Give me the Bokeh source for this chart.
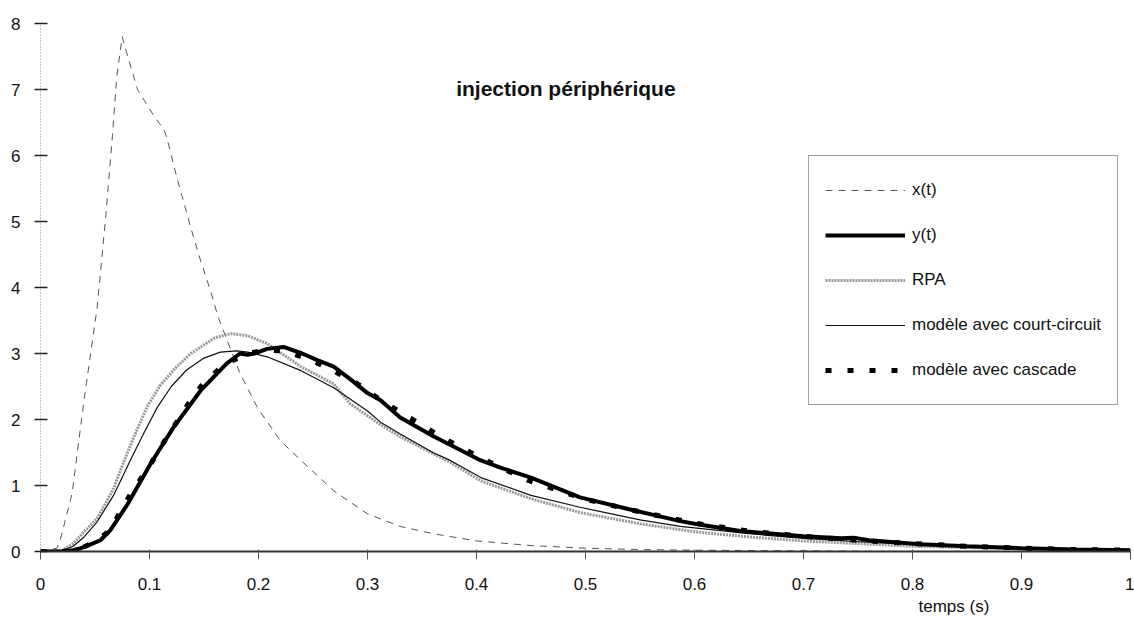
from bokeh.plotting import figure
from bokeh.models import Range1d, FixedTicker, Legend, LegendItem, Label, Title
from bokeh.embed import file_html
from bokeh.resources import INLINE

# ---------------- data ----------------
t_x = [0, 0.015, 0.018, 0.021, 0.029, 0.040, 0.052, 0.060, 0.066, 0.070, 0.075, 0.080, 0.089,
       0.104, 0.113, 0.116, 0.125, 0.138, 0.147, 0.156, 0.163, 0.183, 0.199, 0.22, 0.239,
       0.269, 0.30, 0.33, 0.36, 0.40, 0.45, 0.50, 0.55, 0.60, 0.70, 0.80, 0.90, 1.0]
v_x = [0, 0.05, 0.17, 0.36, 0.88, 2.3, 3.7, 5.1, 6.3, 7.2, 7.8, 7.5, 7.0,
       6.6, 6.4, 6.27, 5.67, 4.9, 4.4, 3.95, 3.55, 2.7, 2.18, 1.68, 1.38,
       0.92, 0.57, 0.38, 0.27, 0.16, 0.09, 0.05, 0.03, 0.02, 0.01, 0.0, 0.0, 0.0]

t_y = [0, 0.02, 0.03, 0.037, 0.045, 0.055, 0.064, 0.08, 0.101, 0.122, 0.147, 0.171, 0.183,
       0.19, 0.196, 0.208, 0.223, 0.24, 0.254, 0.269, 0.285, 0.30, 0.312, 0.33, 0.36, 0.404,
       0.422, 0.45, 0.495, 0.54, 0.587, 0.60, 0.642, 0.70, 0.735, 0.746, 0.76, 0.807, 0.85,
       0.90, 0.95, 1.0]
v_y = [0, 0, 0.02, 0.05, 0.1, 0.17, 0.32, 0.72, 1.33, 1.88, 2.44, 2.85, 3.0,
       2.98, 3.0, 3.07, 3.1, 3.0, 2.9, 2.8, 2.6, 2.4, 2.29, 2.03, 1.75, 1.38,
       1.27, 1.12, 0.82, 0.64, 0.46, 0.42, 0.31, 0.23, 0.2, 0.21, 0.17, 0.11, 0.08,
       0.05, 0.03, 0.02]

t_rpa = [0, 0.02, 0.03, 0.04, 0.052, 0.067, 0.075, 0.086, 0.098, 0.11, 0.125, 0.138, 0.16,
         0.175, 0.19, 0.208, 0.239, 0.269, 0.284, 0.312, 0.33, 0.376, 0.404, 0.45, 0.495,
         0.55, 0.6, 0.65, 0.7, 0.75, 0.8, 0.9, 1.0]
v_rpa = [0, 0.02, 0.12, 0.3, 0.5, 0.95, 1.3, 1.75, 2.2, 2.52, 2.8, 3.0, 3.24,
         3.3, 3.27, 3.15, 2.8, 2.54, 2.24, 1.92, 1.74, 1.35, 1.07, 0.8, 0.59,
         0.42, 0.3, 0.22, 0.16, 0.12, 0.08, 0.04, 0.02]

t_cc = [0, 0.02, 0.03, 0.04, 0.052, 0.067, 0.083, 0.095, 0.107, 0.12, 0.134, 0.15, 0.165,
        0.18, 0.19, 0.208, 0.239, 0.269, 0.30, 0.312, 0.33, 0.36, 0.376, 0.404, 0.45, 0.495,
        0.55, 0.587, 0.65, 0.7, 0.75, 0.8, 0.9, 1.0]
v_cc = [0, 0.01, 0.08, 0.22, 0.45, 0.85, 1.4, 1.8, 2.18, 2.5, 2.75, 2.93, 3.02,
        3.04, 3.02, 2.95, 2.74, 2.48, 2.13, 1.96, 1.78, 1.5, 1.38, 1.12, 0.85, 0.67,
        0.48, 0.38, 0.27, 0.2, 0.15, 0.11, 0.05, 0.02]

t_cas = [0, 0.02, 0.035, 0.05, 0.064, 0.073, 0.083, 0.102, 0.111, 0.121, 0.13, 0.139, 0.15,
         0.165, 0.177, 0.191, 0.205, 0.223, 0.245, 0.266, 0.29, 0.309, 0.335, 0.35, 0.364,
         0.391, 0.42, 0.447, 0.5, 0.55, 0.6, 0.65, 0.7, 0.75, 0.8, 0.85, 0.9, 0.95, 1.0]
v_cas = [0, 0, 0.03, 0.15, 0.32, 0.6, 0.88, 1.35, 1.6, 1.86, 2.09, 2.33, 2.56,
         2.78, 2.9, 3.0, 3.05, 3.04, 2.92, 2.76, 2.55, 2.33, 2.06, 1.92, 1.77,
         1.53, 1.29, 1.08, 0.79, 0.6, 0.43, 0.31, 0.23, 0.17, 0.12, 0.08, 0.05, 0.03, 0.02]

x_ticks = [0, 0.1, 0.2, 0.3, 0.4, 0.5, 0.6, 0.7, 0.8, 0.9, 1]
x_tick_labels = ["0", "0.1", "0.2", "0.3", "0.4", "0.5", "0.6", "0.7", "0.8", "0.9", "1"]
y_ticks = [0, 1, 2, 3, 4, 5, 6, 7, 8]

series_names = ["x(t)", "y(t)", "RPA", "modèle avec court-circuit", "modèle avec cascade"]
title_text = "injection périphérique"
xlabel_text = "temps (s)"

# ---------------- figure ----------------
FONT = "Liberation Sans"

p = figure(width=1134, height=625, output_backend="svg", toolbar_location=None,
           x_range=Range1d(0, 1), y_range=Range1d(0, 8),
           min_border_left=40, min_border_right=4, min_border_top=23, min_border_bottom=74)
p.outline_line_color = None
p.background_fill_color = "white"
p.border_fill_color = "white"
p.xgrid.visible = False
p.ygrid.visible = False

# axes
p.xaxis.ticker = FixedTicker(ticks=x_ticks)
p.xaxis.major_label_overrides = {k: v for k, v in zip(x_ticks, x_tick_labels)}
p.xaxis.minor_tick_line_color = None
p.xaxis.axis_line_color = "#333333"
p.xaxis.axis_line_width = 2
p.xaxis.major_tick_line_color = "#555555"
p.xaxis.major_tick_in = 2
p.xaxis.major_tick_out = 8
p.xaxis.major_label_standoff = 18
p.xaxis.major_label_text_font = FONT
p.xaxis.major_label_text_font_size = "17px"
p.xaxis.major_label_text_color = "#111111"

p.yaxis.ticker = FixedTicker(ticks=y_ticks)
p.yaxis.minor_tick_line_color = None
p.yaxis.axis_line_color = "#888888"
p.yaxis.axis_line_dash = "1 2"
p.yaxis.major_tick_line_color = "#222222"
p.yaxis.major_tick_line_width = 1.5
p.yaxis.major_tick_in = 7
p.yaxis.major_tick_out = 6
p.yaxis.major_label_standoff = 14
p.yaxis.major_label_text_font = FONT
p.yaxis.major_label_text_font_size = "17px"
p.yaxis.major_label_text_color = "#111111"

# series
r_x = p.line(t_x, v_x, line_color="#555555", line_width=1, line_dash="7 6")
r_rpa = p.line(t_rpa, v_rpa, line_color="#999999", line_width=3, line_dash="2 1")
r_cc = p.line(t_cc, v_cc, line_color="#111111", line_width=1.2)
r_y = p.line(t_y, v_y, line_color="black", line_width=4)
r_cas = p.line(t_cas, v_cas, line_color="black", line_width=5, line_dash="6 16")

legend = Legend(items=[
    LegendItem(label=series_names[0], renderers=[r_x]),
    LegendItem(label=series_names[1], renderers=[r_y]),
    LegendItem(label=series_names[2], renderers=[r_rpa]),
    LegendItem(label=series_names[3], renderers=[r_cc]),
    LegendItem(label=series_names[4], renderers=[r_cas]),
], location=(768, 146))
legend.border_line_color = "#444444"
legend.border_line_width = 1
legend.background_fill_color = "white"
legend.background_fill_alpha = 1
legend.label_text_font = FONT
legend.label_text_font_size = "17px"
legend.label_text_color = "#111111"
legend.glyph_width = 80
legend.glyph_height = 36
legend.label_height = 36
legend.label_standoff = 7
legend.spacing = 9
legend.padding = 16
legend.margin = 0
p.add_layout(legend, "center")

title = Label(x=0.482, y=7.02, text=title_text, text_align="center", text_baseline="middle",
              text_font=FONT, text_font_style="bold", text_font_size="21px",
              text_color="#111111")
p.add_layout(title)

xlab = Title(text=xlabel_text, align="left", offset=878, standoff=5,
             text_font=FONT, text_font_style="normal", text_font_size="17px",
             text_color="#111111")
p.add_layout(xlab, "below")

open("out.html", "w").write(file_html(p, INLINE))
